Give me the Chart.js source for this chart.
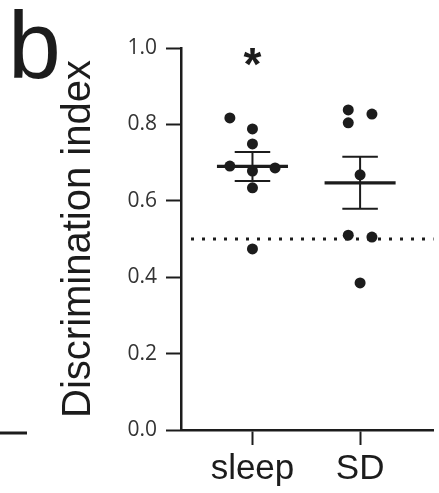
<!DOCTYPE html>
<html>
<head>
<meta charset="utf-8">
<script src="https://cdn.jsdelivr.net/npm/chart.js@4"></script>
<style>
  html, body { margin: 0; padding: 0; background: #fff; }
  #wrap { width: 439px; height: 493px; position: relative; }
</style>
</head>
<body>
<div id="wrap"><canvas id="chartDiscrim" width="439" height="493"></canvas></div>
<script>
// groups and per-animal values
const groups = ['sleep', 'SD'];
const sleepVals = [0.817, 0.788, 0.749, 0.691, 0.678, 0.686, 0.634, 0.474];
const sleepJitter = [-0.21, 0, 0, -0.21, 0, 0.21, 0, 0];
const sdVals = [0.838, 0.804, 0.827, 0.668, 0.510, 0.505, 0.385];
const sdJitter = [-0.11, -0.11, 0.11, 0, -0.11, 0.11, 0];
const groupMeans = [0.690, 0.647];
const groupSem = [0.038, 0.068];
const chanceLevel = 0.5;
const yTicks = [0, 0.2, 0.4, 0.6, 0.8, 1.0];
const panelLetter = 'b';
const sigMark = '*';

const ink = '#1c1c1c';

const points = (vals, jit, pos) => vals.map((v, i) => ({ x: pos + jit[i], y: v }));

// mean + sem bars, chance line, asterisk, panel letter
const extras = {
    id: 'extras',
    afterDatasetsDraw(chart) {
        const { ctx, scales: { x, y }, chartArea } = chart;
        ctx.save();
        // chance line
        ctx.strokeStyle = ink;
        ctx.lineWidth = 3;
        ctx.setLineDash([3, 8]);
        ctx.beginPath();
        ctx.moveTo(chartArea.left + 10, y.getPixelForValue(chanceLevel));
        ctx.lineTo(chartArea.right, y.getPixelForValue(chanceLevel));
        ctx.stroke();
        ctx.setLineDash([]);

        groupMeans.forEach((m, i) => {
            const pos = i + 1;
            const ym = y.getPixelForValue(m);
            const yHi = y.getPixelForValue(m + groupSem[i]);
            const yLo = y.getPixelForValue(m - groupSem[i]);
            ctx.lineWidth = 3.3;
            ctx.beginPath();
            ctx.moveTo(x.getPixelForValue(pos - 0.33), ym);
            ctx.lineTo(x.getPixelForValue(pos + 0.33), ym);
            ctx.stroke();
            ctx.lineWidth = 2;
            ctx.beginPath();
            ctx.moveTo(x.getPixelForValue(pos), yHi);
            ctx.lineTo(x.getPixelForValue(pos), yLo);
            ctx.moveTo(x.getPixelForValue(pos - 0.165), yHi);
            ctx.lineTo(x.getPixelForValue(pos + 0.165), yHi);
            ctx.moveTo(x.getPixelForValue(pos - 0.165), yLo);
            ctx.lineTo(x.getPixelForValue(pos + 0.165), yLo);
            ctx.stroke();
        });

        ctx.fillStyle = ink;
        ctx.textAlign = 'center';
        ctx.textBaseline = 'alphabetic';
        ctx.font = 'bold 46px "Liberation Sans", Arial, sans-serif';
        ctx.fillText(sigMark, x.getPixelForValue(1), 80);

        ctx.textAlign = 'left';
        ctx.font = '95px "Liberation Sans", Arial, sans-serif';
        ctx.fillText(panelLetter, 8, 78);

        // edge of the neighbouring panel
        ctx.lineWidth = 3;
        ctx.beginPath();
        ctx.moveTo(0, 433);
        ctx.lineTo(27, 433);
        ctx.stroke();
        ctx.restore();
    }
};

const ctxDiscrim = document.getElementById('chartDiscrim').getContext('2d');
const chartDiscrim = new Chart(ctxDiscrim, {
    type: 'scatter',
    data: {
        datasets: [{
            label: groups[0],
            data: points(sleepVals, sleepJitter, 1),
            pointRadius: 5.5,
            pointBackgroundColor: ink,
            pointBorderWidth: 0
        },
        {
            label: groups[1],
            data: points(sdVals, sdJitter, 2),
            pointRadius: 5.5,
            pointBackgroundColor: ink,
            pointBorderWidth: 0
        }]
    },
    options: {
        responsive: false,
        animation: false,
        layout: { padding: { left: 0, right: 0, top: 48, bottom: 0 } },
        plugins: { legend: { display: false }, tooltip: { enabled: false } },
        scales: {
            x: {
                type: 'linear',
                min: 0.336,
                max: 2.682,
                afterBuildTicks: (s) => { s.ticks = groups.map((g, i) => ({ value: i + 1 })); },
                afterFit: (s) => { s.height = 63; },
                ticks: {
                    callback: (v) => groups[v - 1],
                    color: ink,
                    padding: 3,
                    font: { family: '"Liberation Sans", Arial, sans-serif', size: 35 }
                },
                grid: { drawOnChartArea: false, tickLength: 15, tickWidth: 2, tickColor: ink },
                border: { color: ink, width: 2.5 }
            },
            y: {
                min: 0,
                max: 1,
                afterBuildTicks: (s) => { s.ticks = yTicks.map(v => ({ value: v })); },
                afterFit: (s) => { s.width = 181; },
                ticks: {
                    callback: (v) => v.toFixed(1),
                    color: '#333',
                    padding: 9,
                    font: { family: '"Open Sans", sans-serif', size: 21 }
                },
                title: {
                    display: true,
                    text: 'Discrimination index',
                    color: ink,
                    padding: { top: 55 },
                    font: { family: '"Liberation Sans", Arial, sans-serif', size: 40 }
                },
                grid: { drawOnChartArea: false, tickLength: 15, tickWidth: 2, tickColor: ink },
                border: { color: ink, width: 2.5 }
            }
        }
    },
    plugins: [extras]
});
</script>
</body>
</html>
